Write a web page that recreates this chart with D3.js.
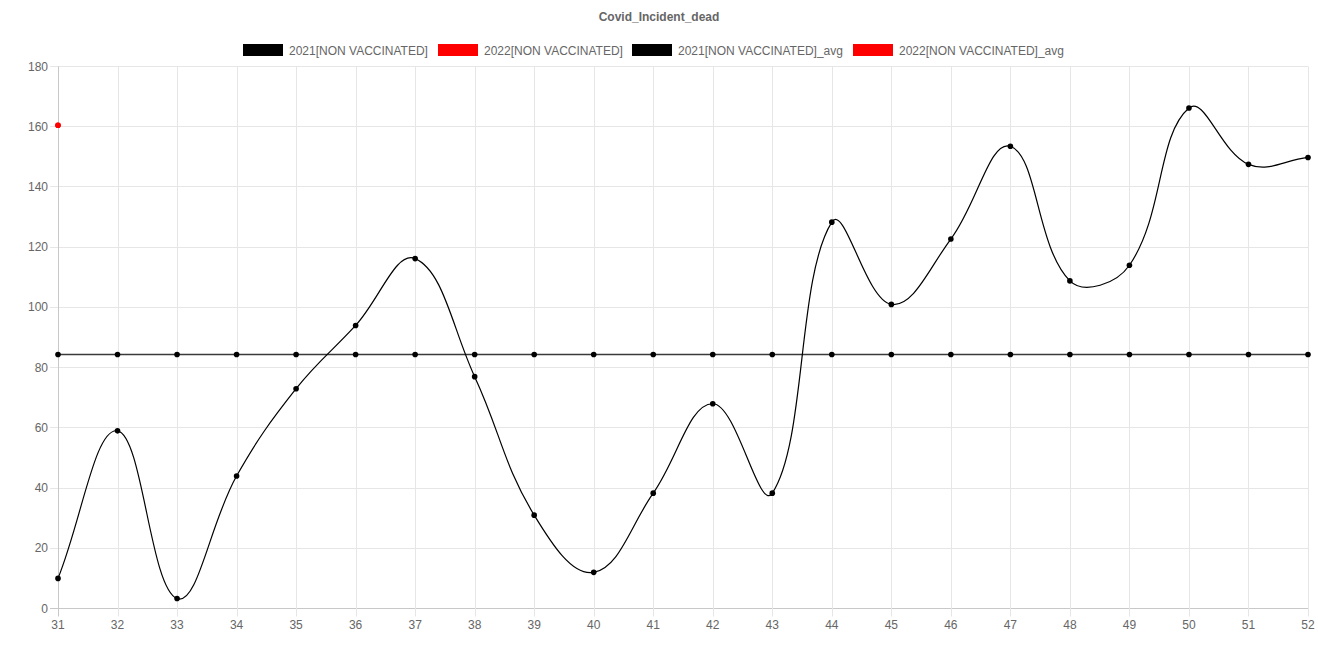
<!DOCTYPE html>
<html><head><meta charset="utf-8">
<script src="https://cdn.jsdelivr.net/npm/d3@7"></script>
<style>
html,body{margin:0;padding:0;background:#fff;}
svg text{font-family:"Liberation Sans",Arial,Helvetica,sans-serif;}
</style></head>
<body><svg id="c" width="1318" height="659"></svg>
<script>
const title = "Covid_Incident_dead";
const weeks = [31,32,33,34,35,36,37,38,39,40,41,42,43,44,45,46,47,48,49,50,51,52];
const dead2021 = [10,59,3.3,44,73,94,116.2,77,31,12,38.3,68,38.3,128.3,101,122.7,153.5,108.8,114,166.2,147.5,149.8];
const dead2022 = [160.5];
const seriesNames = ["2021[NON VACCINATED]","2022[NON VACCINATED]","2021[NON VACCINATED]_avg","2022[NON VACCINATED]_avg"];
const seriesColors = ["#000000","#ff0000","#000000","#ff0000"];
const yTicks = [0,20,40,60,80,100,120,140,160,180];

const avg2021 = d3.mean(dead2021);
const avg2022 = d3.mean(dead2022);
const avgLine2021 = weeks.map(() => avg2021);
const avgLine2022 = dead2022.map(() => avg2022);

const svg = d3.select("#c");
const mLeft = 58, mRight = 1308, mTop = 66.5, mBottom = 608.5;
const x = d3.scalePoint().domain(weeks).range([mLeft, mRight]);
const y = d3.scaleLinear().domain([0,180]).range([mBottom, mTop]);

// title
svg.append("text").attr("x", 659).attr("y", 21).attr("text-anchor","middle")
  .attr("font-size",12).attr("font-weight","bold").attr("fill","#666").text(title);

// legend
const legendX = [243, 438, 632, 853];
seriesNames.forEach((n,i)=>{
  svg.append("rect").attr("x",legendX[i]).attr("y",44).attr("width",40).attr("height",12).attr("fill",seriesColors[i]);
  svg.append("text").attr("x",legendX[i]+46).attr("y",54.5).attr("font-size",12).attr("fill","#666").text(n);
});

// grid
const g = svg.append("g");
yTicks.forEach(t=>{
  g.append("line").attr("x1",mLeft-8).attr("x2",mRight).attr("y1",Math.floor(y(t))+0.5).attr("y2",Math.floor(y(t))+0.5)
   .attr("stroke", t===0 ? "#c8c8c8" : "#e6e6e6").attr("stroke-width",1);
  g.append("text").attr("x",mLeft-10).attr("y",y(t)+4).attr("text-anchor","end").attr("font-size",12).attr("fill","#666").text(t);
});
weeks.forEach(w=>{
  g.append("line").attr("x1",Math.round(x(w))+0.5).attr("x2",Math.round(x(w))+0.5).attr("y1",mTop).attr("y2",mBottom+8)
   .attr("stroke", w===weeks[0] ? "#c8c8c8" : "#e6e6e6").attr("stroke-width",1);
  g.append("text").attr("x",x(w)).attr("y",mBottom+20).attr("text-anchor","middle").attr("font-size",12).attr("fill","#666").text(w);
});

// Chart.js style spline
function splinePath(pts, t){
  if(pts.length===0) return "";
  if(pts.length===1) return `M${pts[0][0]},${pts[0][1]}`;
  const cps = pts.map((cur,i)=>{
    const prev = pts[i-1]||cur, next = pts[i+1]||cur;
    const d01 = Math.hypot(cur[0]-prev[0],cur[1]-prev[1]);
    const d12 = Math.hypot(next[0]-cur[0],next[1]-cur[1]);
    let s01 = d01/(d01+d12), s12 = d12/(d01+d12);
    if(isNaN(s01)) s01=0; if(isNaN(s12)) s12=0;
    const fa=t*s01, fb=t*s12;
    return {p:[cur[0]-fa*(next[0]-prev[0]), cur[1]-fa*(next[1]-prev[1])],
            n:[cur[0]+fb*(next[0]-prev[0]), cur[1]+fb*(next[1]-prev[1])]};
  });
  let d = `M${pts[0][0]},${pts[0][1]}`;
  for(let i=1;i<pts.length;i++){
    d += `C${cps[i-1].n[0]},${cps[i-1].n[1]} ${cps[i].p[0]},${cps[i].p[1]} ${pts[i][0]},${pts[i][1]}`;
  }
  return d;
}

function drawSeries(vals, color, width, pointColor){
  const pts = vals.map((v,i)=>[x(weeks[i]), y(v)]);
  svg.append("path").attr("d", splinePath(pts,0.4)).attr("fill","none").attr("stroke",color).attr("stroke-width",width);
  pts.forEach(p=>svg.append("circle").attr("cx",p[0]).attr("cy",p[1]).attr("r",2.8).attr("fill",pointColor||color));
}
drawSeries(avgLine2021, "#3a3a3a", 1.5, "#000");
drawSeries(dead2021, "#000", 1.2);
drawSeries(avgLine2022, "#ff0000", 1.2);
drawSeries(dead2022, "#ff0000", 1.2);
</script></body></html>
